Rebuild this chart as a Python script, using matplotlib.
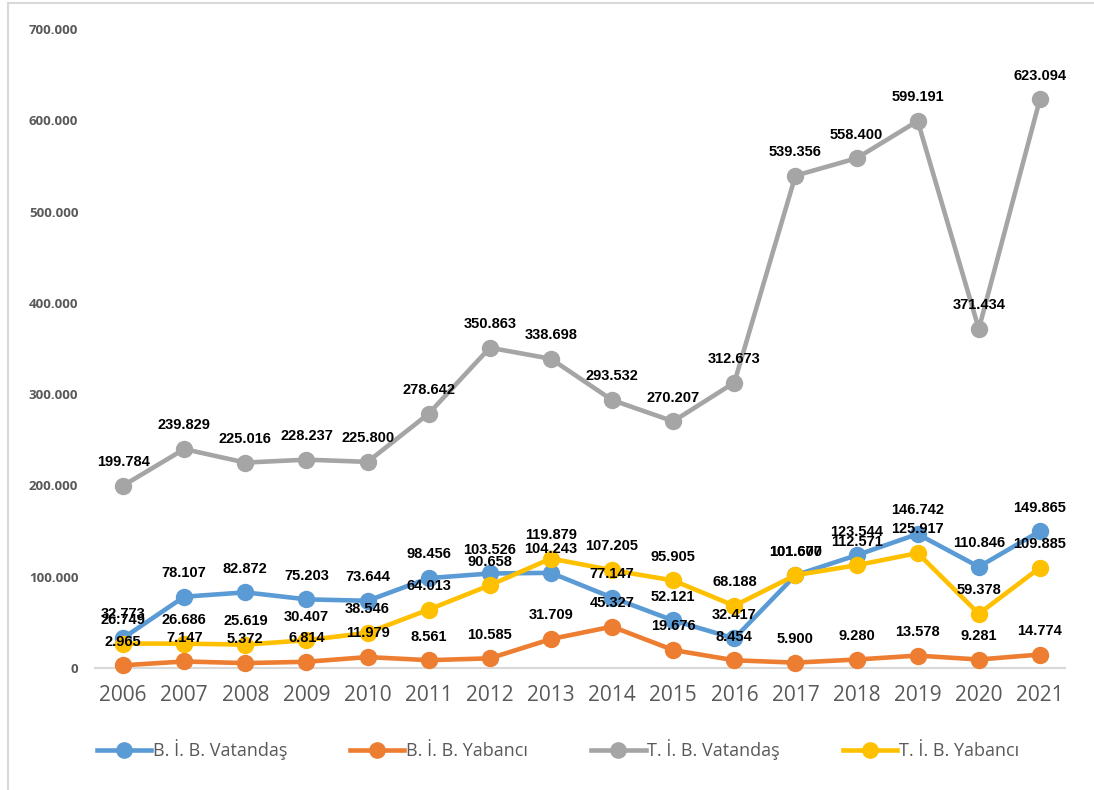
import matplotlib
matplotlib.use("Agg")
import matplotlib.pyplot as plt
from matplotlib.lines import Line2D
from matplotlib.ticker import FuncFormatter

years = ["2006", "2007", "2008", "2009", "2010", "2011", "2012", "2013",
         "2014", "2015", "2016", "2017", "2018", "2019", "2020", "2021"]

bib_vatandas = [32773, 78107, 82872, 75203, 73644, 98456, 103526, 104243,
                77147, 52121, 32417, 101600, 123544, 146742, 110846, 149865]
bib_yabanci = [2965, 7147, 5372, 6814, 11979, 8561, 10585, 31709,
               45327, 19676, 8454, 5900, 9280, 13578, 9281, 14774]
tib_vatandas = [199784, 239829, 225016, 228237, 225800, 278642, 350863, 338698,
                293532, 270207, 312673, 539356, 558400, 599191, 371434, 623094]
tib_yabanci = [26749, 26686, 25619, 30407, 38546, 64013, 90658, 119879,
               107205, 95905, 68188, 101677, 112571, 125917, 59378, 109885]

series = [
    ("B. İ. B. Vatandaş", bib_vatandas, "#5B9BD5"),
    ("B. İ. B. Yabancı", bib_yabanci, "#ED7D31"),
    ("T. İ. B. Vatandaş", tib_vatandas, "#A5A5A5"),
    ("T. İ. B. Yabancı", tib_yabanci, "#FFC000"),
]


def fmt_tr(v):
    return f"{int(round(v)):,}".replace(",", ".")


fig = plt.figure(figsize=(10.94, 7.90), dpi=100)
# outer frame: only left and top edges visible in the reference
fig.add_artist(Line2D([8 / 1094, 8 / 1094], [0, 1 - 3 / 790], transform=fig.transFigure,
                      color="#D9D9D9", linewidth=1.5))
fig.add_artist(Line2D([8 / 1094, 1], [1 - 3 / 790, 1 - 3 / 790], transform=fig.transFigure,
                      color="#D9D9D9", linewidth=1.5))

ax = fig.add_axes([95 / 1094, 1 - 668 / 790, (1065 - 95) / 1094, (668 - 29) / 790])
x = list(range(len(years)))

for name, vals, col in series:
    ax.plot(x, vals, color=col, linewidth=3.3, marker="o", markersize=11.5,
            label=name, clip_on=False, solid_capstyle="round", zorder=3)

for name, vals, col in series:
    for xi, v in zip(x, vals):
        ax.annotate(fmt_tr(v), (xi, v), xytext=(0, 12), textcoords="offset points",
                    ha="center", va="bottom", fontsize=10.5, fontweight="bold",
                    family="Liberation Sans", color="#000000", zorder=5)

ax.set_xlim(-0.46, 15.41)
ax.set_ylim(0, 700000)
ax.set_yticks(range(0, 700001, 100000))
ax.yaxis.set_major_formatter(FuncFormatter(lambda v, p: fmt_tr(v)))
ax.set_xticks(x)
ax.set_xticklabels(years)

for s in ["top", "right", "left"]:
    ax.spines[s].set_visible(False)
ax.spines["bottom"].set_color("#D9D9D9")
ax.spines["bottom"].set_linewidth(1.5)
ax.tick_params(axis="both", length=0)
ax.tick_params(axis="y", pad=12)
ax.tick_params(axis="x", pad=12)
for lbl in ax.get_yticklabels():
    lbl.set_fontfamily("Open Sans")
    lbl.set_fontweight("bold")
    lbl.set_fontsize(9.5)
    lbl.set_color("#595959")
for lbl in ax.get_xticklabels():
    lbl.set_fontfamily("Open Sans")
    lbl.set_fontsize(15)
    lbl.set_color("#595959")

handles = [Line2D([0], [0], color=c, linewidth=3.3, marker="o", markersize=11)
           for _, _, c in series]
leg = fig.legend(handles, [s[0] for s in series], loc="center",
                 bbox_to_anchor=(558 / 1094, 1 - 750 / 790), ncol=4, frameon=False,
                 handlelength=3.0, handletextpad=0.1, columnspacing=3.5,
                 prop={"family": "Open Sans", "size": 13})
for t in leg.get_texts():
    t.set_color("#595959")

fig.savefig("out.png", dpi=100)
